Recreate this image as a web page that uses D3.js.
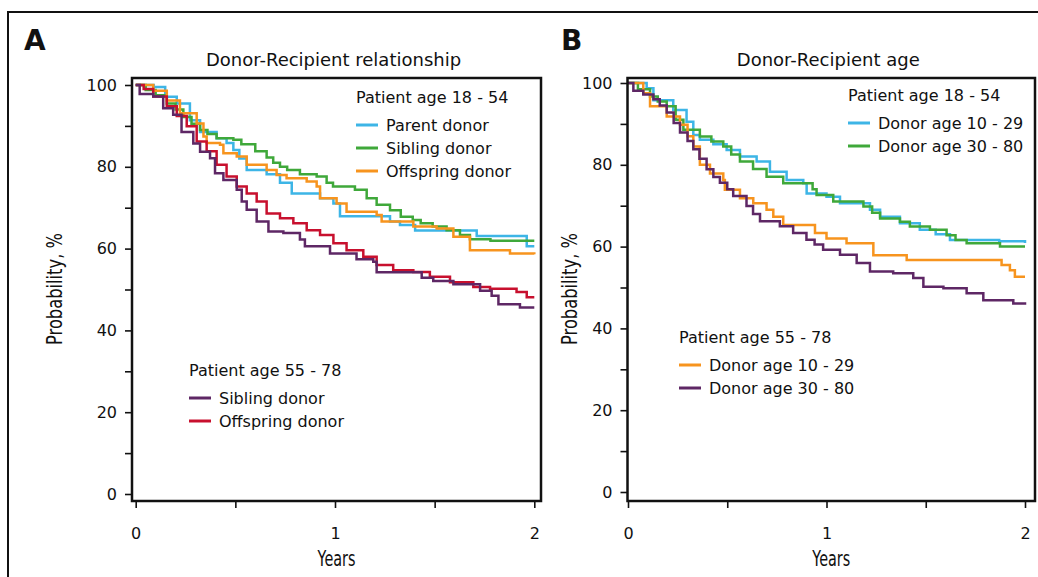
<!DOCTYPE html>
<html>
<head>
<meta charset="utf-8">
<script src="https://cdn.jsdelivr.net/npm/d3@7"></script>
<style>
  body { margin: 0; background: #fff; }
  svg text { font-family: "DejaVu Sans", sans-serif; fill: #111; }
</style>
</head>
<body>
<script>
// tick values
var yTicks = [0, 10, 20, 30, 40, 50, 60, 70, 80, 90, 100];
var xTicks = [0, 0.5, 1, 1.5, 2];

// Panel A: donor-recipient relationship  [years, probability %]
var aParent = [[0,100],[0.09,99.5],[0.148,97.1],[0.206,95.5],[0.272,91.4],[0.323,88.5],[0.406,87.0],[0.456,85.8],[0.49,84.1],[0.52,82],[0.557,79.2],[0.657,78.2],[0.724,76.1],[0.783,73.5],[0.925,72.3],[0.992,71.0],[1.025,67.9],[1.276,66.6],[1.326,65.8],[1.402,64.4],[1.711,63.1],[1.962,60.6],[2.0,60.6]];
var aSibling = [[0,100],[0.05,98.8],[0.1,97.5],[0.156,95.5],[0.2,94],[0.239,92.2],[0.28,90.5],[0.323,89.0],[0.36,88],[0.406,87.0],[0.49,86.6],[0.53,85.5],[0.6,83.8],[0.657,82.3],[0.69,81],[0.724,80.0],[0.76,79.2],[0.824,78.2],[0.908,77.6],[0.958,76.1],[0.99,75.2],[1.1,74.4],[1.159,72.3],[1.209,70.7],[1.276,69.4],[1.33,67.8],[1.39,67.0],[1.43,66.2],[1.49,65.4],[1.56,64.5],[1.627,63.3],[1.677,62.3],[1.78,61.9],[2.0,61.9]];
var aOffspring = [[0,100],[0.088,98.6],[0.156,96.2],[0.222,93.1],[0.306,90.6],[0.34,87.4],[0.356,85.8],[0.423,85.4],[0.44,83.3],[0.507,82.5],[0.557,80.5],[0.657,79.2],[0.707,78.0],[0.757,77.2],[0.858,76.4],[0.908,75.2],[0.925,72.3],[1.008,71.0],[1.058,69.0],[1.209,68.2],[1.234,66.6],[1.393,65.4],[1.51,64.9],[1.594,62.9],[1.677,59.6],[1.878,58.8],[2.0,58.6]];
var aOldSibling = [[0,100],[0.02,97.8],[0.088,97.2],[0.138,94.3],[0.188,92.7],[0.23,88.5],[0.289,85.7],[0.323,83.7],[0.373,82.1],[0.398,78.4],[0.44,76.8],[0.507,74.4],[0.532,71.5],[0.557,69.5],[0.607,66.6],[0.666,64.2],[0.741,63.8],[0.824,62.2],[0.849,60.6],[0.975,58.8],[1.108,57.4],[1.192,56.8],[1.209,54.2],[1.435,52.9],[1.493,52.1],[1.594,51.3],[1.728,49.7],[1.786,48.5],[1.82,46.4],[1.928,45.6],[2.0,45.6]];
var aOldOffspring = [[0,100],[0.04,99],[0.088,97.2],[0.156,94.8],[0.206,92.4],[0.256,89.9],[0.306,86.2],[0.356,83.8],[0.406,80.5],[0.456,77.6],[0.507,75.2],[0.557,73.5],[0.607,71.5],[0.657,68.6],[0.724,67.4],[0.791,66.2],[0.858,64.5],[0.925,63.3],[0.992,61.3],[1.058,59.6],[1.142,58.0],[1.209,56.0],[1.292,54.7],[1.393,54.3],[1.476,53.1],[1.577,51.8],[1.694,50.6],[1.778,50.2],[1.911,49.4],[1.962,48.1],[2.0,48.1]];

// Panel B: donor-recipient age
var bYoung1029 = [[0,100],[0.094,98.7],[0.128,95.8],[0.228,93.4],[0.295,90.5],[0.329,87.3],[0.362,86.1],[0.43,85],[0.497,83.6],[0.564,82.0],[0.648,80.8],[0.715,78.3],[0.799,76.3],[0.883,75.5],[0.9,73.0],[1.0,72.2],[1.068,70.6],[1.219,69.0],[1.27,67.3],[1.37,65.7],[1.47,64.1],[1.55,63],[1.622,61.6],[1.87,61.3],[2.0,60.9]];
var bYoung3080 = [[0,100],[0.05,98.5],[0.111,96.7],[0.15,95.5],[0.195,94.3],[0.24,91],[0.279,88.6],[0.362,86.9],[0.42,85.7],[0.48,84.5],[0.52,82.5],[0.564,80.8],[0.63,79],[0.698,77.1],[0.782,75.5],[0.93,74],[0.95,72.6],[1.034,71.0],[1.186,69.8],[1.23,68.3],[1.27,66.9],[1.37,66.1],[1.42,64.9],[1.521,64.1],[1.605,62.8],[1.65,61.6],[1.706,60.8],[1.874,60.0],[2.0,60.0]];
var bOld1029 = [[0,100],[0.077,97.5],[0.111,94.3],[0.195,91.8],[0.262,89.8],[0.3,87],[0.329,84.5],[0.362,80.0],[0.413,77.9],[0.48,76.3],[0.488,73.9],[0.564,71.8],[0.631,70.6],[0.698,69.0],[0.732,67.3],[0.782,65.3],[0.942,63.3],[1.0,62.0],[1.101,60.8],[1.236,57.9],[1.404,56.7],[1.882,55.5],[1.924,54.2],[1.949,52.6],[2.0,52.6]];
var bOld3080 = [[0,100],[0.027,98.1],[0.077,97.2],[0.128,96.0],[0.16,94.5],[0.195,92.8],[0.23,90.2],[0.262,87.9],[0.3,85.8],[0.329,83.8],[0.36,81.5],[0.396,78.9],[0.43,77],[0.463,75.6],[0.5,74],[0.53,72.4],[0.597,69.9],[0.63,68],[0.665,66.2],[0.765,65.0],[0.832,63.3],[0.899,61.7],[0.94,60.5],[0.983,59.2],[1.068,58.0],[1.152,56.0],[1.219,53.9],[1.336,53.5],[1.437,52.3],[1.488,50.2],[1.589,49.8],[1.706,48.6],[1.79,46.9],[1.941,46.1],[2.0,45.8]];

var blue = "#3db5e6", green = "#3fa83a", orange = "#f7941e", purple = "#5e2765", red = "#c8102e";

var svg = d3.select("body").append("svg")
    .attr("width", 1038)
    .attr("height", 577);

// outer figure border
svg.append("rect")
    .attr("x", 8).attr("y", 12)
    .attr("width", 1040).attr("height", 600)
    .attr("fill", "none").attr("stroke", "#111").attr("stroke-width", 2);

var panels = [
  {letter: "A", lx: 24, title: "Donor-Recipient relationship",
   frame: [132, 78, 541, 501], xr: [135.7, 534.3], yr: [494, 85], ylabX: 55,
   series: [
     {data: aParent, color: blue}, {data: aSibling, color: green}, {data: aOffspring, color: orange},
     {data: aOldOffspring, color: red}, {data: aOldSibling, color: purple}],
   legends: [
     {x: 356, y: 103, title: "Patient age 18 - 54", items: [["Parent donor", blue], ["Sibling donor", green], ["Offspring donor", orange]]},
     {x: 189, y: 376, title: "Patient age 55 - 78", items: [["Sibling donor", purple], ["Offspring donor", red]]}]},
  {letter: "B", lx: 561, title: "Donor-Recipient age",
   frame: [627.5, 78, 1035, 501], xr: [628, 1025], yr: [492, 83], ylabX: 570,
   series: [
     {data: bYoung1029, color: blue}, {data: bYoung3080, color: green},
     {data: bOld1029, color: orange}, {data: bOld3080, color: purple}],
   legends: [
     {x: 848, y: 101, title: "Patient age 18 - 54", items: [["Donor age 10 - 29", blue], ["Donor age 30 - 80", green]]},
     {x: 679, y: 343, title: "Patient age 55 - 78", items: [["Donor age 10 - 29", orange], ["Donor age 30 - 80", purple]]}]}
];

panels.forEach(function(p) {
  var f = p.frame;
  var x = d3.scaleLinear().domain([0, 2]).range(p.xr);
  var y = d3.scaleLinear().domain([0, 100]).range(p.yr);

  svg.append("text")
      .attr("x", p.lx).attr("y", 50)
      .attr("font-family", "Liberation Sans, Arial, sans-serif")
      .attr("font-weight", "bold")
      .attr("font-size", 28)
      .text(p.letter);

  svg.append("text")
      .attr("x", (f[0] + f[2]) / 2 - 3).attr("y", 66)
      .attr("text-anchor", "middle")
      .attr("font-size", 18)
      .text(p.title);

  var yAxis = d3.axisLeft(y).tickValues(yTicks).tickSize(7).tickPadding(8)
      .tickFormat(function(d) { return d % 20 === 0 ? d : ""; });
  var gy = svg.append("g")
      .attr("transform", "translate(" + f[0] + ",0)")
      .call(yAxis);
  var xAxis = d3.axisBottom(x).tickValues(xTicks).tickSize(7).tickPadding(20)
      .tickFormat(function(d) { return d % 1 === 0 ? d : ""; });
  var gx = svg.append("g")
      .attr("transform", "translate(0," + f[3] + ")")
      .call(xAxis);
  [gx, gy].forEach(function(g) {
    g.select(".domain").remove();
    g.attr("font-family", "DejaVu Sans, sans-serif").attr("font-size", 16);
    g.selectAll(".tick line").attr("stroke", "#111").attr("stroke-width", 1.6);
    g.selectAll(".tick text").attr("fill", "#111");
  });

  var line = d3.line()
      .curve(d3.curveStepAfter)
      .x(function(d) { return x(d[0]); })
      .y(function(d) { return y(d[1]); });

  svg.append("g").selectAll("path")
      .data(p.series)
    .enter().append("path")
      .attr("d", function(s) { return line(s.data); })
      .attr("fill", "none")
      .attr("stroke", function(s) { return s.color; })
      .attr("stroke-width", 2.5);

  svg.append("rect")
      .attr("x", f[0]).attr("y", f[1])
      .attr("width", f[2] - f[0]).attr("height", f[3] - f[1])
      .attr("fill", "none").attr("stroke", "#111").attr("stroke-width", 2.5);

  // axis titles (condensed face)
  svg.append("text")
      .attr("x", (f[0] + f[2]) / 2 - 19).attr("y", 566)
      .attr("font-family", "Liberation Sans, Arial, sans-serif")
      .attr("font-size", 22)
      .attr("textLength", 38).attr("lengthAdjust", "spacingAndGlyphs")
      .text("Years");

  svg.append("text")
      .attr("transform", "translate(" + (p.ylabX + 7) + ",345) rotate(-90)")
      .attr("font-family", "Liberation Sans, Arial, sans-serif")
      .attr("font-size", 21)
      .attr("textLength", 112).attr("lengthAdjust", "spacingAndGlyphs")
      .text("Probability, %");

  p.legends.forEach(function(lg) {
    var g = svg.append("g").attr("transform", "translate(" + lg.x + "," + lg.y + ")");
    g.append("text").attr("font-size", 16).text(lg.title);
    var items = g.selectAll(".item")
        .data(lg.items)
      .enter().append("g")
        .attr("class", "item")
        .attr("transform", function(d, i) { return "translate(0," + (22 + i * 23) + ")"; });
    items.append("line")
        .attr("x1", 0).attr("x2", 22)
        .attr("stroke", function(d) { return d[1]; })
        .attr("stroke-width", 3);
    items.append("text")
        .attr("x", 30).attr("y", 6)
        .attr("font-size", 16)
        .text(function(d) { return d[0]; });
  });
});
</script>
</body>
</html>
